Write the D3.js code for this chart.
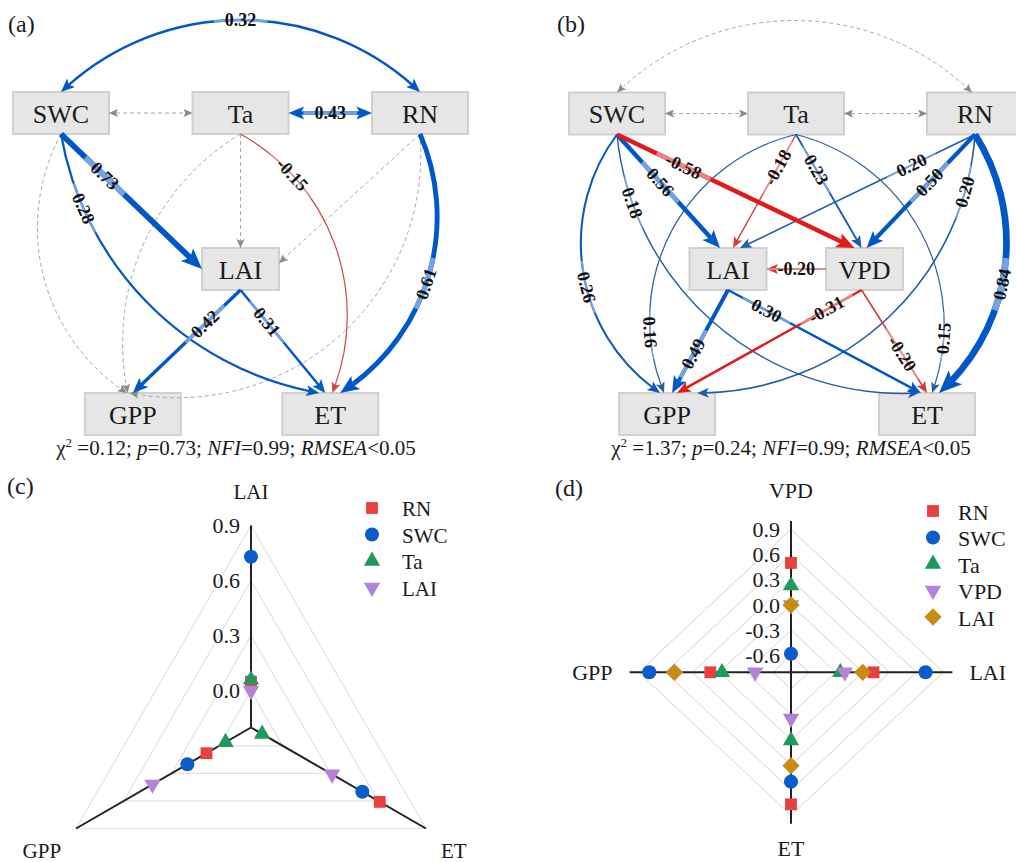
<!DOCTYPE html>
<html>
<head>
<meta charset="utf-8">
<script src="https://cdn.jsdelivr.net/npm/d3@7"></script>
<style>
  body { margin: 0; background: #fff; }
  svg { display: block; font-family: "Liberation Serif", "Times New Roman", serif; }
  text { white-space: pre; }
</style>
</head>
<body>
<svg id="fig" width="1016" height="862"></svg>
<script>
// ---------------- data ----------------
// Path model (a): variables and standardized path coefficients (null = non-significant)
const nodesA = ["SWC", "Ta", "RN", "LAI", "GPP", "ET"];
const pathsA = [
  ["SWC", "Ta", null], ["Ta", "LAI", null], ["RN", "LAI", null],
  ["Ta", "GPP", null], ["SWC", "GPP", null], ["RN", "GPP", null],
  ["SWC", "RN", 0.32], ["Ta", "RN", 0.43],
  ["SWC", "LAI", 0.73], ["SWC", "ET", 0.28], ["Ta", "ET", -0.15],
  ["RN", "ET", 0.61], ["LAI", "GPP", 0.42], ["LAI", "ET", 0.31]
];
const covA = ["SWC-RN", "SWC-Ta", "Ta-RN"];
const fitA = ["0.12", "0.73", "0.99", "0.05"];

// Path model (b)
const nodesB = ["SWC", "Ta", "RN", "LAI", "VPD", "GPP", "ET"];
const pathsB = [
  ["SWC", "RN", null], ["SWC", "Ta", null], ["Ta", "RN", null],
  ["SWC", "ET", 0.18], ["Ta", "GPP", 0.16], ["Ta", "ET", 0.15], ["RN", "GPP", 0.20],
  ["SWC", "GPP", 0.26], ["Ta", "LAI", -0.18], ["Ta", "VPD", 0.23],
  ["RN", "LAI", 0.20], ["LAI", "GPP", 0.49], ["LAI", "ET", 0.30],
  ["VPD", "LAI", -0.20], ["VPD", "GPP", -0.31], ["VPD", "ET", -0.20],
  ["SWC", "LAI", 0.56], ["RN", "VPD", 0.50], ["SWC", "VPD", -0.58], ["RN", "ET", 0.84]
];
const covB = ["SWC-RN", "SWC-Ta", "Ta-RN"];
const fitB = ["1.37", "0.24", "0.99", "0.05"];

// Radar (c): total effects on LAI, ET, GPP
const axesC = ["LAI", "ET", "GPP"];
const seriesC = ["RN", "SWC", "Ta", "LAI"];
const effRN_C  = [0.05, 0.61, 0.08];
const effSWC_C = [0.73, 0.50, 0.20];
const effTa_C  = [0.06, -0.13, -0.04];
const effLAI_C = [0.00, 0.31, 0.42];
const ticksC = [0, 0.3, 0.6, 0.9];

// Radar (d): total effects on VPD, LAI, ET, GPP
const axesD = ["VPD", "LAI", "ET", "GPP"];
const seriesD = ["RN", "SWC", "Ta", "VPD", "LAI"];
const effRN_D  = [0.50, 0.12, 0.77, 0.10];
const effSWC_D = [-0.58, 0.70, 0.50, 0.78];
const effTa_D  = [0.23, -0.25, 0.01, -0.03];
const effVPD_D = [0.00, -0.20, -0.25, -0.40];
const effLAI_D = [0.00, 0.00, 0.31, 0.50];
const ticksD = [-0.6, -0.3, 0, 0.3, 0.6, 0.9];

// ---------------- drawing ----------------
const svg = d3.select("#fig");
svg.append("rect").attr("width", 1016).attr("height", 862).attr("fill", "#fff");

const POS = "#0057c8", NEG = "#e01b1b";
const blueTone = d3.scaleLinear().domain([0.15, 0.3]).range(["#30609c", POS]).clamp(true);
const redTone = d3.scaleLinear().domain([0.15, 0.3]).range(["#c94a4a", NEG]).clamp(true);
const widthScale = d3.scaleLinear().domain([0, 1]).range([0, 8]);

function arcPath(p0, p1, s) {
  if (!s) return `M${p0[0]},${p0[1]}L${p1[0]},${p1[1]}`;
  const L = Math.hypot(p1[0] - p0[0], p1[1] - p0[1]);
  const r = (L * L / 4 + s * s) / (2 * Math.abs(s));
  return `M${p0[0]},${p0[1]}A${r},${r} 0 ${Math.abs(s) > L / 2 ? 1 : 0} ${s > 0 ? 1 : 0} ${p1[0]},${p1[1]}`;
}

function drawSEM(g, o) {
  const box = {};
  o.nodes.forEach(n => {
    const w = o.narrow.includes(n) ? 77 : 96;
    box[n] = { cx: o.x(o.pos[n][0]), cy: o.y(o.pos[n][1]), w, h: 42 };
  });
  function anchor(n, spec) {
    const b = box[n], side = spec[0], dx = spec[1] || 0, dy = spec[2] || 0;
    let p;
    if (side === "t") p = [b.cx, b.cy - b.h / 2];
    else if (side === "b") p = [b.cx, b.cy + b.h / 2];
    else if (side === "l") p = [b.cx - b.w / 2, b.cy];
    else p = [b.cx + b.w / 2, b.cy];
    return [p[0] + dx, p[1] + dy];
  }

  const gBox = g.append("g");
  const gEdge = g.append("g");
  const gLab = g.append("g");

  o.nodes.forEach(n => {
    const b = box[n];
    gBox.append("rect").attr("x", b.cx - b.w / 2).attr("y", b.cy - b.h / 2)
      .attr("width", b.w).attr("height", b.h)
      .attr("fill", "#e6e6e6").attr("stroke", "#d0d0d0").attr("stroke-width", 2);
    gBox.append("text").attr("x", b.cx).attr("y", b.cy + 1)
      .attr("text-anchor", "middle").attr("dominant-baseline", "central")
      .attr("font-size", 26).attr("fill", "#1a1a1a").text(n);
  });

  function head(pt, back, h, hw, col) {
    const ang = Math.atan2(pt.y - back.y, pt.x - back.x) * 180 / Math.PI;
    gEdge.append("path")
      .attr("d", `M0,0L${-h},${hw / 2}L${-0.78 * h},0L${-h},${-hw / 2}Z`)
      .attr("transform", `translate(${pt.x},${pt.y}) rotate(${ang})`)
      .attr("fill", col);
  }

  o.paths.forEach(([f, t, c]) => {
    const key = f + "-" + t, gm = o.geom[key];
    const d = arcPath(anchor(f, gm.a), anchor(t, gm.b), gm.s || 0);
    const sig = c !== null;
    const both = o.cov.includes(key);
    const w = sig ? Math.max(1.2, widthScale(Math.abs(c))) : 1;
    const col = !sig ? "#a8a8a8" : (c > 0 ? blueTone(Math.abs(c)) : redTone(Math.abs(c)));
    const headCol = sig ? col : "#8a8a8a";
    const path = gEdge.append("path").attr("d", d).attr("fill", "none")
      .attr("stroke", col).attr("stroke-width", w);
    const node = path.node(), L = node.getTotalLength();
    const h = sig ? 8 + 2.2 * w : 9, hw = sig ? 0.85 * h : 8;
    if (sig) {
      const a = both ? 0.7 * h : 0, b = 0.7 * h;
      path.attr("stroke-dasharray", a ? `0 ${a} ${L - a - b} ${L}` : `${L - b} ${L}`);
    } else {
      path.attr("stroke-dasharray", "4 3");
    }
    head(node.getPointAtLength(L), node.getPointAtLength(L - 0.7 * h), h, hw, headCol);
    if (both) head(node.getPointAtLength(0), node.getPointAtLength(0.7 * h), h, hw, headCol);

    if (sig && gm.t !== undefined) {
      const m = gm.t * L;
      const p1 = node.getPointAtLength(m - 2), p2 = node.getPointAtLength(m + 2);
      const pm = node.getPointAtLength(m);
      let ang = Math.atan2(p2.y - p1.y, p2.x - p1.x) * 180 / Math.PI;
      if (ang > 90) ang -= 180;
      if (ang < -90) ang += 180;
      const txt = gLab.append("text")
        .attr("transform", `translate(${pm.x},${pm.y}) rotate(${ang})`)
        .attr("text-anchor", "middle").attr("dominant-baseline", "central")
        .attr("font-size", 18).attr("font-weight", "bold").attr("fill", "#111")
        .text(c.toFixed(2));
      const seg = txt.node().getComputedTextLength() + 22;
      gEdge.append("path").attr("d", d).attr("fill", "none")
        .attr("stroke", d3.interpolateRgb(col, "#ffffff")(0.45))
        .attr("stroke-width", w)
        .attr("stroke-dasharray", `0 ${Math.max(0, m - seg / 2)} ${seg} ${L * 2}`);
    }
  });
}

function fitText(g, cx, y, v) {
  const t = g.append("text").attr("x", cx).attr("y", y).attr("text-anchor", "middle")
    .attr("font-size", 21).attr("fill", "#1a1a1a");
  t.append("tspan").text("χ");
  t.append("tspan").attr("dy", -8).attr("font-size", 13).text("2");
  t.append("tspan").attr("dy", 8).text(" =" + v[0] + "; ");
  t.append("tspan").attr("font-style", "italic").text("p");
  t.append("tspan").text("=" + v[1] + "; ");
  t.append("tspan").attr("font-style", "italic").text("NFI");
  t.append("tspan").text("=" + v[2] + "; ");
  t.append("tspan").attr("font-style", "italic").text("RMSEA");
  t.append("tspan").text("<" + v[3]);
}

// ----- panel (a) -----
const gA = svg.append("g");
drawSEM(gA, {
  nodes: nodesA, paths: pathsA, cov: covA, narrow: ["LAI"],
  x: d3.scaleLinear().domain([0, 2]).range([61, 420]),
  y: d3.scaleLinear().domain([0, 1, 2]).range([113, 269, 414]),
  pos: { SWC: [0, 0], Ta: [1, 0], RN: [2, 0], LAI: [1, 1], GPP: [0.4, 2], ET: [1.5, 2] },
  geom: {
    "SWC-RN": { a: ["t"], b: ["t"], s: 72, t: 0.5 },
    "SWC-Ta": { a: ["r"], b: ["l"] },
    "Ta-RN": { a: ["r"], b: ["l"], t: 0.5 },
    "SWC-LAI": { a: ["b"], b: ["l"], t: 0.31 },
    "SWC-ET": { a: ["b"], b: ["t", -11], s: -58, t: 0.2 },
    "Ta-ET": { a: ["b"], b: ["t", 2], s: 52, t: 0.22 },
    "RN-ET": { a: ["b"], b: ["t", 10], s: 50, t: 0.52 },
    "LAI-GPP": { a: ["b"], b: ["t"], t: 0.33 },
    "LAI-ET": { a: ["b"], b: ["t", -5], t: 0.31 },
    "Ta-LAI": { a: ["b"], b: ["t"] },
    "RN-LAI": { a: ["b"], b: ["r", 0, -6] },
    "Ta-GPP": { a: ["b"], b: ["t", -5], s: -45 },
    "SWC-GPP": { a: ["b"], b: ["t", -6], s: -52 },
    "RN-GPP": { a: ["b"], b: ["t", -3], s: 97 }
  }
});
fitText(gA, 236, 455, fitA);

// ----- panel (b) -----
const gB = svg.append("g");
drawSEM(gB, {
  nodes: nodesB, paths: pathsB, cov: covB, narrow: ["LAI", "VPD"],
  x: d3.scaleLinear().domain([0, 2]).range([617, 975]),
  y: d3.scaleLinear().domain([0, 1, 2]).range([113.5, 269, 414]),
  pos: { SWC: [0, 0], Ta: [1, 0], RN: [2, 0], LAI: [0.62, 1], VPD: [1.383, 1], GPP: [0.28, 2], ET: [1.732, 2] },
  geom: {
    "SWC-RN": { a: ["t"], b: ["t", -3], s: 72 },
    "SWC-Ta": { a: ["r"], b: ["l"] },
    "Ta-RN": { a: ["r"], b: ["l"] },
    "SWC-VPD": { a: ["b"], b: ["t", -10], t: 0.28 },
    "SWC-LAI": { a: ["b"], b: ["t", -8], t: 0.42 },
    "SWC-GPP": { a: ["b"], b: ["t", -7], s: -56, t: 0.55 },
    "SWC-ET": { a: ["b"], b: ["t", -8], s: -80, t: 0.16 },
    "Ta-LAI": { a: ["b"], b: ["t", 5], t: 0.29 },
    "Ta-VPD": { a: ["b"], b: ["t", -3], t: 0.31 },
    "Ta-GPP": { a: ["b"], b: ["t", -3], s: -67, t: 0.81 },
    "Ta-ET": { a: ["b"], b: ["t", 5], s: 65, t: 0.83 },
    "RN-LAI": { a: ["b"], b: ["t", 12], t: 0.27 },
    "RN-VPD": { a: ["b"], b: ["t", 2], t: 0.42 },
    "RN-GPP": { a: ["b"], b: ["t", 30], s: 75, t: 0.14 },
    "RN-ET": { a: ["b"], b: ["t", 12], s: 48, t: 0.55 },
    "VPD-LAI": { a: ["l"], b: ["r"], t: 0.5 },
    "VPD-GPP": { a: ["b", -3], b: ["t", 10], t: 0.19 },
    "VPD-ET": { a: ["b", -3], b: ["t", 0], t: 0.62 },
    "LAI-GPP": { a: ["b"], b: ["t", 5], t: 0.62 },
    "LAI-ET": { a: ["b"], b: ["t", -6], t: 0.2 }
  }
});
fitText(gB, 791, 455, fitB);

// ----- radar charts -----
const markerStyles = [
  { type: d3.symbolSquare, size: 140, fill: "#e8413f", rot: 0 },
  { type: d3.symbolCircle, size: 155, fill: "#0a5bcc", rot: 0 },
  { type: d3.symbolTriangle, size: 115, fill: "#1f9a5c", rot: 0 },
  { type: d3.symbolTriangle, size: 115, fill: "#b482d8", rot: 180 },
  { type: d3.symbolSquare, size: 150, fill: "#c98b12", rot: 45 }
];

function drawRadar(g, o) {
  const pt = (i, v) => [o.cx + o.sx * o.r(v) * Math.cos(o.angles[i]), o.cy + o.r(v) * Math.sin(o.angles[i])];
  // grid rings
  o.ticks.forEach(t => {
    g.append("path").attr("d", d3.line()(o.axes.map((_, i) => pt(i, t))) + "Z")
      .attr("fill", "none").attr("stroke", "#e2e2e2").attr("stroke-width", 1.2);
  });
  // axes
  o.axes.forEach((a, i) => {
    const e = pt(i, o.axisMax);
    g.append("line").attr("x1", o.cx).attr("y1", o.cy).attr("x2", e[0]).attr("y2", e[1])
      .attr("stroke", "#222").attr("stroke-width", 2);
    const ca = Math.cos(o.angles[i]), sa = Math.sin(o.angles[i]);
    const lx = e[0] + (ca > 0.1 ? o.lpad[0] : ca < -0.1 ? -o.lpad[0] : 0);
    const ly = e[1] + (sa > 0.1 ? o.lpad[1] : sa < -0.1 ? -o.lpad[2] : 0);
    g.append("text").attr("x", lx).attr("y", ly)
      .attr("text-anchor", ca > 0.1 ? "start" : ca < -0.1 ? "end" : "middle")
      .attr("dominant-baseline", "central").attr("font-size", o.labelSize).attr("fill", "#1a1a1a").text(a);
  });
  // tick labels along the upward axis
  o.ticks.forEach(t => {
    g.append("text").attr("x", o.cx - 11).attr("y", o.cy - o.r(t))
      .attr("text-anchor", "end").attr("dominant-baseline", "central")
      .attr("font-size", 22).attr("fill", "#1a1a1a").text(t.toFixed(1));
  });
  // points
  o.series.forEach((s, k) => {
    const st = markerStyles[o.styles[k]];
    const sym = d3.symbol().type(st.type).size(st.size);
    o.values[k].forEach((v, i) => {
      const p = pt(i, v);
      g.append("path").attr("d", sym()).attr("fill", st.fill)
        .attr("transform", `translate(${p[0]},${p[1]}) rotate(${st.rot})`);
    });
    // legend
    const ly = o.legend[1] + k * 26.5;
    g.append("path").attr("d", sym()).attr("fill", st.fill)
      .attr("transform", `translate(${o.legend[0]},${ly}) rotate(${st.rot})`);
    g.append("text").attr("x", o.legend[0] + o.legend[2]).attr("y", ly + 1)
      .attr("dominant-baseline", "central").attr("font-size", o.legend[3]).attr("fill", "#1a1a1a").text(s);
  });
}

const deg = Math.PI / 180;
drawRadar(svg.append("g"), {
  cx: 251, cy: 727.5, sx: 1,
  r: d3.scaleLinear().domain([-0.2, 0.9]).range([0, 202]),
  axisMax: 0.9, axes: axesC, angles: [-90 * deg, 30 * deg, 150 * deg],
  ticks: ticksC, series: seriesC, styles: [0, 1, 2, 3],
  values: [effRN_C, effSWC_C, effTa_C, effLAI_C],
  lpad: [15, 22, 34], labelSize: 21, legend: [372, 508, 30, 21]
});
drawRadar(svg.append("g"), {
  cx: 791, cy: 672.3, sx: 1.066,
  r: d3.scaleLinear().domain([-0.8, 1.0]).range([0, 151.4]),
  axisMax: 1.0, axes: axesD, angles: [-90 * deg, 0, 90 * deg, 180 * deg],
  ticks: ticksD, series: seriesD, styles: [0, 1, 2, 3, 4],
  values: [effRN_D, effSWC_D, effTa_D, effVPD_D, effLAI_D],
  lpad: [17, 25, 30], labelSize: 22, legend: [933, 511, 25, 22]
});

// panel letters
[["(a)", 8, 32], ["(b)", 557, 32], ["(c)", 7, 494], ["(d)", 555, 496]].forEach(([s, x, y]) => {
  svg.append("text").attr("x", x).attr("y", y).attr("font-size", 24).attr("fill", "#1a1a1a").text(s);
});
</script>
</body>
</html>
